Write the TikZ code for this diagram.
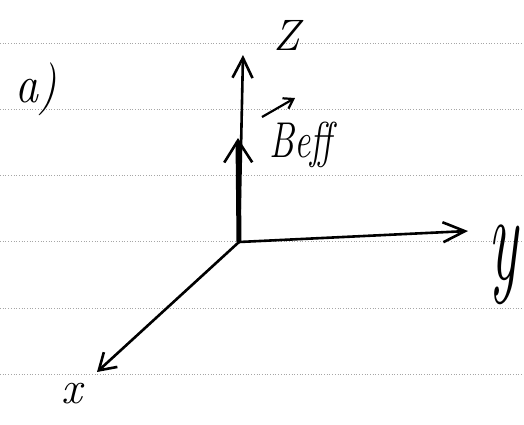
\documentclass[tikz,border=0pt]{standalone}
\usetikzlibrary{arrows.meta}
\begin{document}
\begin{tikzpicture}[x=1pt,y=-1pt,
  rule/.style={gray!70,line width=0.7pt,dotted},
  axis/.style={black,line width=2.6pt,line cap=round},
  barb/.style={-{Straight Barb[length=#1,width=20pt,line width=2.6pt]}},
  lab/.style={inner sep=0pt}]
\useasboundingbox (0,0) rectangle (524,424);
\foreach \yy in {43,109,175,241,308,374}
  \draw[rule] (0,\yy) -- (524,\yy);
\coordinate (O) at (239,242);
\coordinate (ztip) at (243,55);
\coordinate (ytip) at (468,231);
\coordinate (xtip) at (97,372);
\coordinate (btip) at (238,138);
\draw[axis,barb=20pt] (O) -- (ztip);
\draw[axis,barb=22pt] (O) -- (ytip);
\draw[axis,barb=16pt] (O) -- (xtip);
\draw[black,line width=5pt,-{Straight Barb[length=22pt,width=28pt,line width=2.6pt]}] (O) -- (btip);
\node[lab,font=\fontsize{44}{44}\selectfont\itshape] (zl) at (287,35) {Z};
\node[lab,font=\fontsize{46}{46}\selectfont\itshape] (al) at (36,89) {\scalebox{1}[1.15]{a)}};
\node[lab,font=\fontsize{36}{36}\selectfont\itshape] (bl) at (301,145) {\scalebox{1}[1.4]{Beff}};
\coordinate (ba) at (262,117);
\coordinate (bb) at (295,98);
\draw[black,line width=2.2pt,-{Straight Barb[length=9pt,width=12pt,line width=2.2pt]}] (ba) -- (bb);
\node[lab,font=\fontsize{62}{62}\selectfont\itshape] (yl) at (503,265) {\scalebox{1}[2]{y}};
\node[lab,font=\fontsize{46}{46}\selectfont\itshape] (xl) at (72,394) {x};
\end{tikzpicture}
\end{document}
